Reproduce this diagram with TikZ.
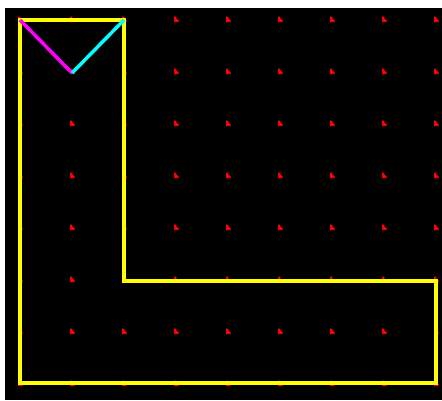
\documentclass[tikz,border=0pt]{standalone}
\begin{document}
\begin{tikzpicture}[x=1pt,y=-1pt,
  gridmark/.style={fill=dotred, draw=none},
  wall/.style={draw=wallyellow, line width=3.5pt, line join=miter},
  leftleg/.style={draw=legmagenta, line width=3.5pt},
  rightleg/.style={draw=legcyan, line width=3.5pt}]
\definecolor{dotred}{RGB}{255,0,0}
\definecolor{wallyellow}{RGB}{255,255,0}
\definecolor{legmagenta}{RGB}{255,0,255}
\definecolor{legcyan}{RGB}{0,255,255}
\useasboundingbox (0,0) rectangle (442,400);
\fill[white] (0,0) rectangle (442,400);
\fill[black] (5,8) rectangle (442,400);
% grid marks
\foreach \i in {0,...,8}{
  \foreach \j in {0,...,7}{
    \fill[gridmark] ({20+52*\i-2},{20+52*\j-3.5}) -- ({20+52*\i+0.3},{20+52*\j-3.5}) -- ({20+52*\i+0.3},{20+52*\j-1.2}) -- ({20+52*\i+2.5},{20+52*\j}) -- ({20+52*\i+2.5},{20+52*\j+2}) -- ({20+52*\i-2},{20+52*\j+2}) -- cycle;
  }
}
\coordinate (tl) at (20,20);
\coordinate (tr) at (124,20);
\coordinate (in) at (124,281);
\coordinate (ro) at (436,281);
\coordinate (br) at (436,383);
\coordinate (bl) at (20,383);
\coordinate (v) at (72,73);
\draw[wall] (tl) -- (tr) -- (in) -- (ro) -- (br) -- (bl) -- cycle;
\draw[leftleg] (tl) -- (v);
\draw[rightleg] (v) -- (tr);
\end{tikzpicture}
\end{document}
